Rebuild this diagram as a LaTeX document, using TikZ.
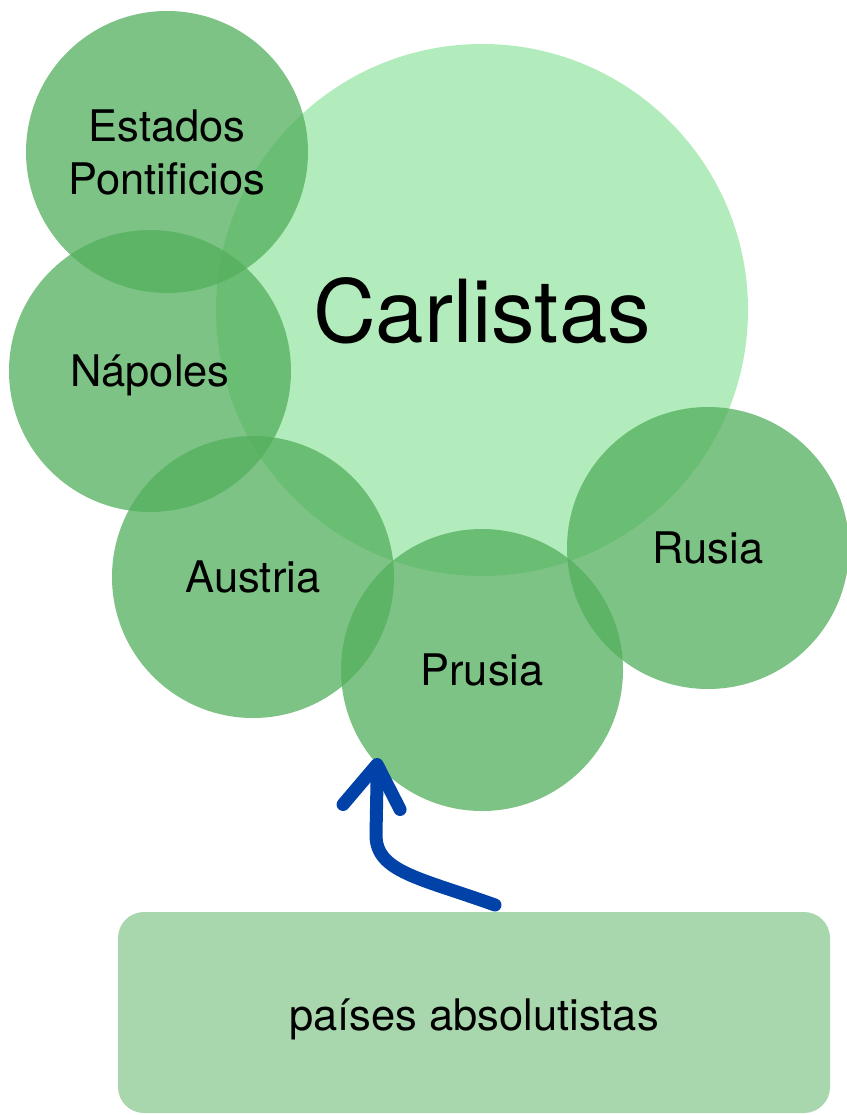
\documentclass[tikz,border=0pt]{standalone}
\usepackage{fontspec}
\setmainfont{TeX Gyre Heros}
\definecolor{bigfill}{HTML}{B3ECBC}
\definecolor{smallfill}{HTML}{52AF5C}
\definecolor{boxfill}{HTML}{A8D6AD}
\definecolor{arrowblue}{HTML}{0042A8}
\tikzset{
  bigcirc/.style={circle, fill=bigfill, minimum size=532pt, inner sep=0pt, text height=64pt, text depth=0pt, font=\fontsize{87}{92}\selectfont},
  smallcirc/.style={circle, fill=smallfill, fill opacity=0.75, text opacity=1, minimum size=282pt, inner sep=0pt, font=\fontsize{43.5}{53}\selectfont, align=center},
  onelabel/.style={text height=31pt, text depth=0pt},
  basebox/.style={rectangle, rounded corners=26pt, fill=boxfill, minimum width=712pt, minimum height=201pt, inner sep=0pt, text height=36pt, text depth=0pt, font=\fontsize{43.5}{50}\selectfont},
  bluestroke/.style={draw=arrowblue, line width=13pt, line cap=round, line join=round}
}
\begin{document}
\begin{tikzpicture}[x=1pt,y=-1pt]
\useasboundingbox (0,0) rectangle (846,1115);
\node[bigcirc] (carl) at (482,310) {Carlistas};
\node[smallcirc] (estados) at (167,152) {Estados\\Pontificios};
\node[smallcirc, onelabel] (napoles) at (150,371) {Nápoles};
\node[smallcirc, onelabel] (austria) at (253,577) {Austria};
\node[smallcirc, onelabel] (prusia) at (482,670) {Prusia};
\node[smallcirc, onelabel] (rusia) at (708,548) {Rusia};
\node[basebox] (base) at (474,1012.5) {países absolutistas};
\coordinate (astart) at (495,905);
\coordinate (atip) at (prusia.222);
\draw[bluestroke] (astart) .. controls (420,878) and (376,872) .. (376,835) -- ([yshift=-14pt]atip);
\draw[bluestroke] ([xshift=-34pt,yshift=-40pt]atip) -- (atip) -- ([xshift=23pt,yshift=-45pt]atip);
\end{tikzpicture}
\end{document}
